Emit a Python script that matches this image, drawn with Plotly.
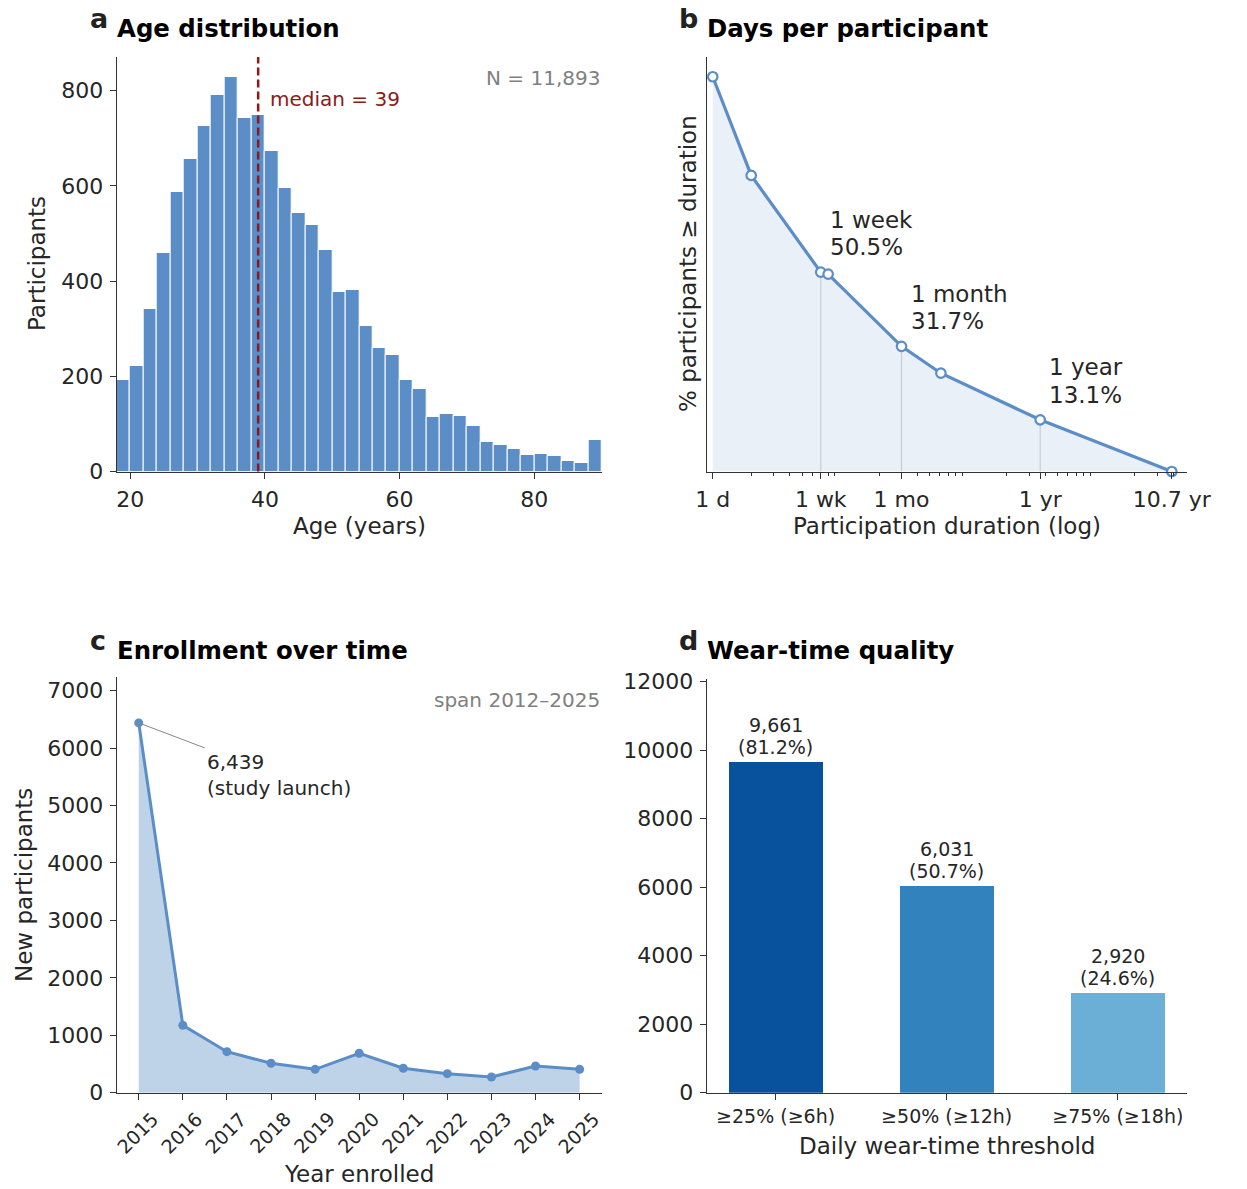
import math
import plotly.graph_objects as go

# ---------------- data ----------------
# Panel a: age histogram (2-year bins from 18 to 90)
age_bin_left = list(range(18, 90, 2))
age_counts = [192, 221, 342, 460, 587, 656, 725, 792, 829, 742, 749, 674,
              595, 543, 518, 465, 378, 381, 305, 260, 244, 192, 173, 114,
              120, 116, 95, 62, 55, 48, 34, 36, 32, 22, 18, 67]
age_median = 39
n_total = "11,893"

# Panel b: survival of participation duration
dur_days = [1, 2, 7, 8, 30, 61, 365, 3908]
dur_pct = [100.0, 75.0, 50.5, 50.0, 31.7, 24.9, 13.1, 0.0]
milestone_days = [7, 30, 365]
milestone_pct = [50.5, 31.7, 13.1]
milestone_names = ["1 week", "1 month", "1 year"]
dur_tickvals = [1, 7, 30, 365, 3908]
dur_ticktext = ["1 d", "1 wk", "1 mo", "1 yr", "10.7 yr"]
dur_minor = [2, 3, 4, 5, 6, 8, 9, 20, 40, 50, 60, 70, 80, 90,
             200, 300, 400, 500, 600, 700, 800, 900, 2000, 3000, 4000]

# Panel c: enrollment by year
years = [2015, 2016, 2017, 2018, 2019, 2020, 2021, 2022, 2023, 2024, 2025]
enrolled = [6439, 1174, 714, 512, 407, 686, 425, 331, 273, 465, 407]

# Panel d: wear-time quality
wear_labels = ["≥25% (≥6h)", "≥50% (≥12h)", "≥75% (≥18h)"]
wear_counts = [9661, 6031, 2920]
wear_pct = [81.2, 50.7, 24.6]
wear_colors = ["#08519c", "#3182bd", "#6baed6"]

# ---------------- style ----------------
W, H = 1247, 1189
FONT = "DejaVu Sans"
BLUE = "#5b8dc7"
AXC = "#333333"
TXT = "#262626"
DARKRED = "#8b1a1a"
GRAY = "#808080"


def fx(p):
    return p / W


def fy(p):
    return 1 - p / H


fig = go.Figure()

# ---- panel a ----
fig.add_trace(go.Bar(
    x=[b + 1 for b in age_bin_left], y=age_counts, width=2,
    marker=dict(color=BLUE, line=dict(color="white", width=1)),
    xaxis="x", yaxis="y", showlegend=False, hoverinfo="skip"))

# ---- panel b ----
fig.add_trace(go.Scatter(
    x=dur_days, y=dur_pct, mode="lines", fill="tozeroy",
    fillcolor="#e9f0f8", line=dict(color=BLUE, width=0),
    xaxis="x2", yaxis="y2", showlegend=False, hoverinfo="skip"))
for d, p in zip(milestone_days, milestone_pct):
    fig.add_trace(go.Scatter(
        x=[d, d], y=[0, p], mode="lines",
        line=dict(color="#c9ced6", width=1.2),
        xaxis="x2", yaxis="y2", showlegend=False, hoverinfo="skip"))
fig.add_trace(go.Scatter(
    x=dur_days, y=dur_pct, mode="lines+markers",
    line=dict(color=BLUE, width=3.2),
    marker=dict(size=9.5, color="white", line=dict(color=BLUE, width=2.2)),
    xaxis="x2", yaxis="y2", showlegend=False, hoverinfo="skip", cliponaxis=False))
# carrier trace for the minor-tick overlay axis (draws nothing)
fig.add_trace(go.Scatter(
    x=dur_days, y=dur_pct, mode="none", xaxis="x5", yaxis="y2",
    showlegend=False, hoverinfo="skip"))

# ---- panel c ----
fig.add_trace(go.Scatter(
    x=years, y=enrolled, mode="lines+markers", fill="tozeroy",
    fillcolor="#bed2e8", line=dict(color=BLUE, width=3),
    marker=dict(size=9, color=BLUE),
    xaxis="x3", yaxis="y3", showlegend=False, hoverinfo="skip"))

# ---- panel d ----
fig.add_trace(go.Bar(
    x=wear_labels, y=wear_counts, width=0.55,
    marker=dict(color=wear_colors, line=dict(width=0)),
    xaxis="x4", yaxis="y4", showlegend=False, hoverinfo="skip"))

axis_common = dict(showline=True, linecolor=AXC, linewidth=1.3, ticks="outside",
                   ticklen=6, tickwidth=1.3, tickcolor=AXC, showgrid=False,
                   zeroline=False, tickfont=dict(family=FONT, size=22, color=TXT),
                   ticklabelstandoff=2, automargin=False)

xa_dom = [fx(116.7), fx(601.7)]
xb_dom = [fx(707), fx(1187)]
y_top_dom = [fy(471.5), fy(57)]
b_range = [-0.045, 3.711]

fig.update_layout(
    template="none",
    width=W, height=H, autosize=False,
    margin=dict(l=0, r=0, t=0, b=0, pad=0),
    paper_bgcolor="white", plot_bgcolor="white",
    font=dict(family=FONT, color=TXT),
    bargap=0,
    xaxis=dict(axis_common, domain=xa_dom, range=[18, 90], tickvals=[20, 40, 60, 80],
               anchor="y"),
    yaxis=dict(axis_common, domain=y_top_dom, range=[0, 871],
               tickvals=[0, 200, 400, 600, 800], anchor="x"),
    xaxis2=dict(axis_common, domain=xb_dom, type="log", range=b_range,
                tickvals=dur_tickvals, ticktext=dur_ticktext, anchor="y2"),
    xaxis5=dict(domain=xb_dom, type="log", range=b_range, overlaying="x2",
                anchor="y2", side="bottom", tickvals=dur_minor, ticks="outside",
                ticklen=3.5, tickwidth=1, tickcolor=AXC, showticklabels=False,
                showline=False, showgrid=False, zeroline=False, automargin=False),
    yaxis2=dict(axis_common, domain=y_top_dom, range=[0, 105], ticks="",
                showticklabels=False, anchor="x2"),
    xaxis3=dict(axis_common, domain=xa_dom, range=[2014.5, 2025.5], tickvals=years,
                showticklabels=False, anchor="y3"),
    yaxis3=dict(axis_common, domain=[fy(1092.7), fy(677.3)], range=[0, 7233],
                tickvals=[0, 1000, 2000, 3000, 4000, 5000, 6000, 7000],
                tickformat="d", anchor="x3"),
    xaxis4=dict(axis_common, domain=[fx(706.7), fx(1186.7)], type="category",
                range=[-0.4025, 2.4025], ticklabelstandoff=0,
                tickfont=dict(family=FONT, size=19, color=TXT), anchor="y4"),
    yaxis4=dict(axis_common, domain=[fy(1092.7), fy(679)], range=[0, 12076],
                tickvals=[0, 2000, 4000, 6000, 8000, 10000, 12000],
                tickformat="d", anchor="x4"),
)

# median line
fig.add_shape(type="line", xref="x", yref="y domain", x0=age_median, x1=age_median,
              y0=0, y1=1, line=dict(color=DARKRED, width=2.5, dash="8px,4px"))

ann = []


def paper_text(text, x, y, size, bold=False, color="#111111", xanchor="left",
               yanchor="middle", angle=0):
    ann.append(dict(text=f"<b>{text}</b>" if bold else text, x=fx(x), y=fy(y),
                    xref="paper", yref="paper", showarrow=False, xanchor=xanchor,
                    yanchor=yanchor, textangle=angle,
                    font=dict(family=FONT, size=size, color=color)))


# panel letters and titles
paper_text("a", 88, 19, 27, bold=True, color="#222222")
paper_text("Age distribution", 115, 28, 24.4, bold=True, color="#000000")
paper_text("b", 677, 19, 27, bold=True, color="#222222")
paper_text("Days per participant", 705, 28, 24.4, bold=True, color="#000000")
paper_text("c", 88, 640, 27, bold=True, color="#222222")
paper_text("Enrollment over time", 115, 650, 24.4, bold=True, color="#000000")
paper_text("d", 677, 640, 27, bold=True, color="#222222")
paper_text("Wear-time quality", 705, 650, 24.4, bold=True, color="#000000")

# axis titles
paper_text("Age (years)", 359, 526, 23, color=TXT, xanchor="center")
paper_text("Participants", 37, 264, 23, color=TXT, xanchor="center", angle=-90)
paper_text("Participation duration (log)", 947, 526, 23, color=TXT, xanchor="center")
paper_text("% participants ≥ duration", 688, 264, 23, color=TXT, xanchor="center", angle=-90)
paper_text("Year enrolled", 359, 1174, 23, color=TXT, xanchor="center")
paper_text("New participants", 24, 885, 23, color=TXT, xanchor="center", angle=-90)
paper_text("Daily wear-time threshold", 947, 1146, 23, color=TXT, xanchor="center")

# rotated year tick labels (centred on each tick)
for yr in years:
    ann.append(dict(text=str(yr), x=yr, y=fy(1132.5), xref="x3", yref="paper",
                    xanchor="center", yanchor="middle", textangle=-45, xshift=-1.5,
                    showarrow=False, font=dict(family=FONT, size=19, color=TXT)))

# panel a notes
ann.append(dict(text=f"median = {age_median}", x=age_median, y=0.899, xref="x",
                yref="y domain", xanchor="left", yanchor="middle", xshift=10,
                showarrow=False, font=dict(family=FONT, size=20, color=DARKRED)))
ann.append(dict(text=f"N = {n_total}", x=1, y=0.949, xref="x domain", yref="y domain",
                xanchor="right", yanchor="middle", showarrow=False,
                font=dict(family=FONT, size=20, color=GRAY)))

# panel b milestone labels (log axis -> annotation x in log10 units)
for d, p, name in zip(milestone_days, milestone_pct, milestone_names):
    for txt, ys in ((f"{p:.1f}%", 10), (name, 37.6)):
        ann.append(dict(text=txt, x=math.log10(d), y=p, xref="x2", yref="y2",
                        xanchor="left", yanchor="bottom", xshift=7, yshift=ys,
                        showarrow=False, font=dict(family=FONT, size=23, color=TXT)))

# panel c notes
ann.append(dict(text=f"{enrolled[0]:,}<br>(study launch)", x=years[0], y=enrolled[0],
                xref="x3", yref="y3", showarrow=True, arrowhead=0, arrowwidth=1,
                arrowcolor="#888888", ax=66, ay=25, xanchor="left", yanchor="top",
                align="left", font=dict(family=FONT, size=20, color=TXT)))
ann.append(dict(text="span 2012–2025", x=1, y=0.945, xref="x3 domain", yref="y3 domain",
                xanchor="right", yanchor="middle", showarrow=False,
                font=dict(family=FONT, size=20, color=GRAY)))

# panel d bar labels
for lab, c, p in zip(wear_labels, wear_counts, wear_pct):
    for txt, ys in ((f"({p:.1f}%)", 2), (f"{c:,}", 23.6)):
        ann.append(dict(text=txt, x=lab, y=c, xref="x4", yref="y4",
                        xanchor="center", yanchor="bottom", yshift=ys, showarrow=False,
                        font=dict(family=FONT, size=19, color=TXT)))

fig.update_layout(annotations=ann)
# remove the default 8 px page margin so the figure fills the window exactly
fig.write_html("out.html", config={"displayModeBar": False},
               post_script="document.body.style.margin='0px';")
